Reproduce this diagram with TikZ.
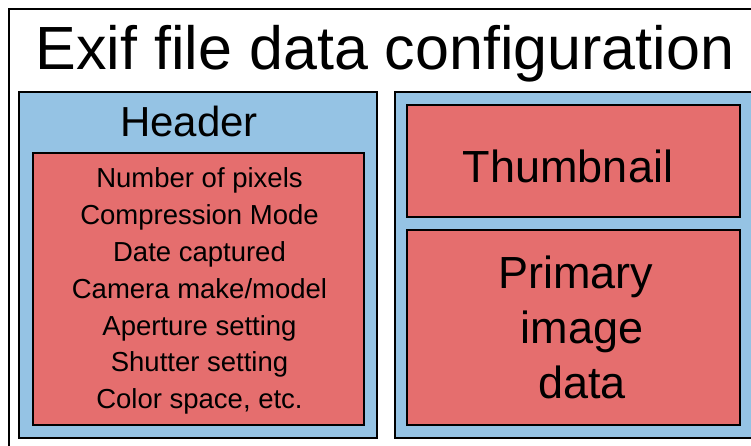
\documentclass[tikz,border=0pt]{standalone}
\usepackage{fontspec}
\setmainfont{Liberation Sans}
\definecolor{panelblue}{HTML}{95C3E4}
\definecolor{fieldred}{HTML}{E56E6E}
\tikzset{
  panel/.style={draw=black, line width=2pt, fill=panelblue, inner sep=0pt},
  field/.style={draw=black, line width=2pt, fill=fieldred, inner sep=0pt},
  label/.style={inner sep=0pt, align=center, text=black},
}
\begin{document}
\begin{tikzpicture}[x=1pt,y=-1pt]
  \clip (0,0) rectangle (751,446);
  \fill[white] (0,0) rectangle (751,446);
  % outer frame, running past the right and bottom edges
  \draw[line width=2pt] (9,9) rectangle (780,480);
  \node[label, anchor=base, font=\fontsize{61}{72}\selectfont] (title) at (385,70) {Exif file data configuration};

  % header panel
  \node[panel, minimum width=358pt, minimum height=346pt] (hdr) at (198,265) {};
  \node[label, anchor=base, font=\fontsize{42}{50}\selectfont] (hdrlabel) at (189,137) {Header};
  \node[field, minimum width=331pt, minimum height=272pt] (hdrfields) at (198.5,289) {};
  \node[label, font=\fontsize{27.5}{36.9}\selectfont] (hdrtext) at ([xshift=1pt,yshift=-2pt]hdrfields.center)
    {Number of pixels\\Compression Mode\\Date captured\\Camera make/model\\Aperture setting\\Shutter setting\\Color space, etc.};

  % image data panel
  \node[panel, minimum width=365pt, minimum height=346pt] (img) at (577.5,265) {};
  \node[field, minimum width=333pt, minimum height=112pt] (thumb) at (573.5,161) {};
  \node[label, anchor=base, font=\fontsize{45}{55}\selectfont] (thumbtext) at (568,183) {Thumbnail};
  \node[field, minimum width=333pt, minimum height=195pt] (primary) at (573.5,327.5) {};
  \node[label, font=\fontsize{45}{55}\selectfont] (primarytext) at ([xshift=8.5pt]primary.center) {Primary\hspace*{13pt}\\image\\data};
\end{tikzpicture}
\end{document}
